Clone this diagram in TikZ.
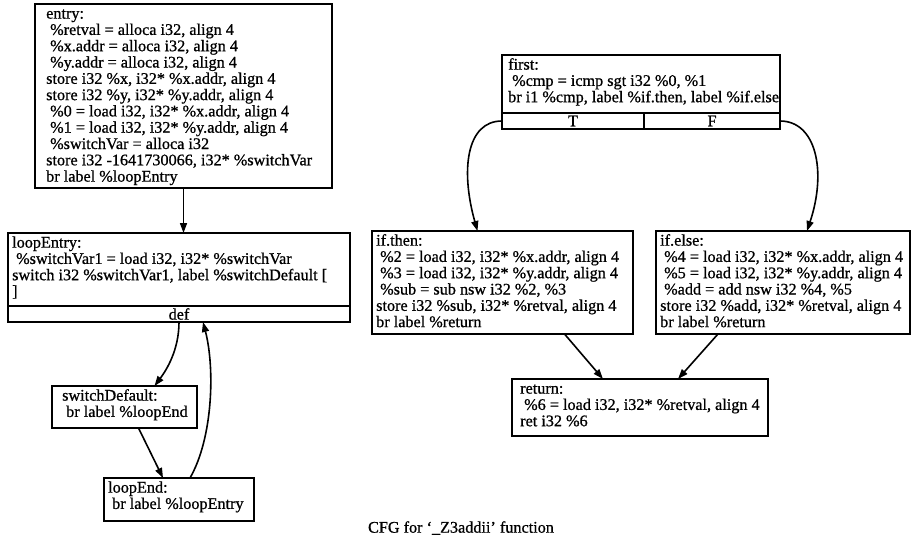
\documentclass[tikz,border=0pt]{standalone}
\usepackage{fontspec}
\setmainfont{Liberation Serif}
\newfontfamily\cfgfam{Liberation Serif}[Ligatures=TeX,FakeBold=0.8]
\usetikzlibrary{arrows.meta,calc}
\newcommand\cfgfont{\cfgfam\fontsize{16.2}{16.3}\selectfont}
\newcommand\ind{\hspace*{4pt}}
\begin{document}
\begin{tikzpicture}[x=1pt,y=-1pt,
  blk/.style={draw, line width=2pt, rectangle, inner sep=0, outer sep=0, anchor=north west},
  txt/.style={anchor=north west, inner sep=0, align=left, font=\cfgfont},
  portbox/.style={blk, minimum height=16pt, font=\cfgfont},
  edge/.style={line width=1.6pt, -{Triangle[length=10pt,width=7pt]}},
]
\useasboundingbox (0,0) rectangle (913,543);
\fill[white] (0,0) rectangle (913,543);

% ---- basic blocks (left component) ----
\node[blk, minimum width=297pt, minimum height=184pt] (entry) at (35,4) {};
\node[txt] (entrytxt) at (46,7) {\strut entry:\\
\ind\%retval = alloca i32, align 4\\
\ind\%x.addr = alloca i32, align 4\\
\ind\%y.addr = alloca i32, align 4\\
store i32 \%x, i32* \%x.addr, align 4\\
store i32 \%y, i32* \%y.addr, align 4\\
\ind\%0 = load i32, i32* \%x.addr, align 4\\
\ind\%1 = load i32, i32* \%y.addr, align 4\\
\ind\%switchVar = alloca i32\\
store i32 -1641730066, i32* \%switchVar\\
br label \%loopEntry};

\node[blk, minimum width=342pt, minimum height=73pt] (loopEntry) at (8,233) {};
\node[txt] (loopEntrytxt) at (12,236) {\strut loopEntry:\\
\ind\%switchVar1 = load i32, i32* \%switchVar\\
switch i32 \%switchVar1, label \%switchDefault [\\
]};
\node[portbox, minimum width=342pt] (def) at (8,306) {def};

\node[blk, minimum width=145pt, minimum height=42pt] (swd) at (52,386) {};
\node[txt] (swdtxt) at (62,389) {\strut switchDefault:\\
\ind br label \%loopEnd};

\node[blk, minimum width=150pt, minimum height=43pt] (lend) at (104,478) {};
\node[txt] (lendtxt) at (108,481) {\strut loopEnd:\\
\ind br label \%loopEntry};

% ---- basic blocks (right component) ----
\node[blk, minimum width=278pt, minimum height=58pt] (first) at (502,55) {};
\node[txt] (firsttxt) at (508,58) {\strut first:\\
\ind\%cmp = icmp sgt i32 \%0, \%1\\
br i1 \%cmp, label \%if.then, label \%if.else};
\node[portbox, minimum width=142pt] (portT) at (502,113) {T};
\node[portbox, minimum width=136pt] (portF) at (644,113) {F};

\node[blk, minimum width=261pt, minimum height=103pt] (ifthen) at (372,231) {};
\node[txt] (ifthentxt) at (376,234) {\strut if.then:\\
\ind\%2 = load i32, i32* \%x.addr, align 4\\
\ind\%3 = load i32, i32* \%y.addr, align 4\\
\ind\%sub = sub nsw i32 \%2, \%3\\
store i32 \%sub, i32* \%retval, align 4\\
br label \%return};

\node[blk, minimum width=254pt, minimum height=103pt] (ifelse) at (656,231) {};
\node[txt] (ifelsetxt) at (660,234) {\strut if.else:\\
\ind\%4 = load i32, i32* \%x.addr, align 4\\
\ind\%5 = load i32, i32* \%y.addr, align 4\\
\ind\%add = add nsw i32 \%4, \%5\\
store i32 \%add, i32* \%retval, align 4\\
br label \%return};

\node[blk, minimum width=256pt, minimum height=57pt] (ret) at (512,379) {};
\node[txt] (rettxt) at (520,382) {\strut return:\\
\ind\%6 = load i32, i32* \%retval, align 4\\
ret i32 \%6};

% ---- control-flow edges ----
\draw[edge] (entry.south) -- (entry.south |- loopEntry.north);
\draw[edge] (def.south) .. controls ($(def.south)+(0,28)$) and ($(swd.north)+(42,-16)$) .. ($(swd.north)+(30,0)$);
\draw[edge] ($(swd.south)+(14,0)$) -- ($(lend.north)+(-16,0)$);
\draw[edge] ($(lend.north)+(11,0)$) .. controls ($(lend.north)+(34,-40)$) and ($(def.south)+(36,46)$) .. ($(def.south)+(24,0)$);

\draw[edge] (portT.west) .. controls ($(portT.west)+(-36,0)$) and ($(ifthen.north)+(-42,-60)$) .. ($(ifthen.north)+(-25,0)$);
\draw[edge] (portF.east) .. controls ($(portF.east)+(36,0)$) and ($(ifelse.north)+(44,-60)$) .. ($(ifelse.north)+(24,0)$);

\draw[edge] ($(ifthen.south)+(62,0)$) -- ($(ret.north)+(-37,0)$);
\draw[edge] ($(ifelse.south)+(-65,0)$) -- ($(ret.north)+(38,0)$);

\node[font=\cfgfont] (title) at (461,528) {CFG for `\_Z3addii' function};
\end{tikzpicture}
\end{document}
